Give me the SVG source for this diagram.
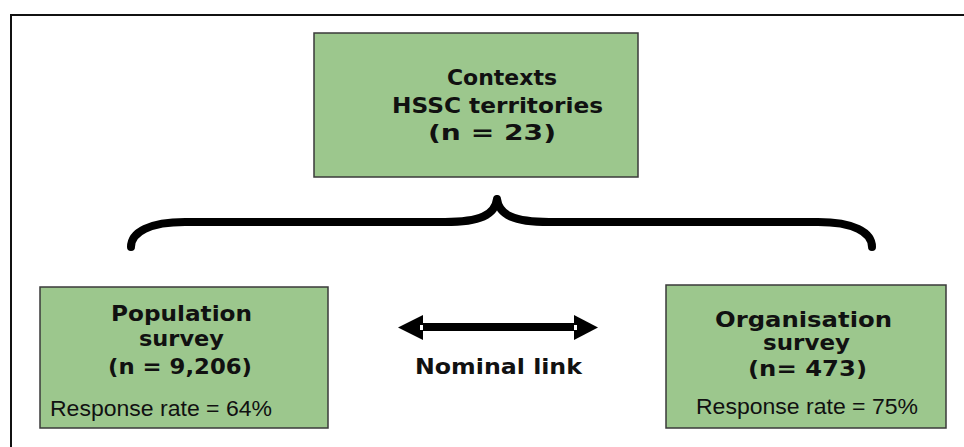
<svg xmlns="http://www.w3.org/2000/svg" width="964" height="447" viewBox="0 0 964 447">
  <defs>
    <style>
      .box { fill: #9cc78d; stroke: #3a3a3a; stroke-width: 1.5; }
      .hd { font-family: "DejaVu Sans", Verdana, sans-serif; font-weight: bold; font-size: 21px; fill: #111; }
      .rr { font-family: "Liberation Sans", Arial, sans-serif; font-size: 22px; fill: #111; }
    </style>
  </defs>
  <rect width="964" height="447" fill="#ffffff"/>
  <!-- outer frame, running past the right and bottom edges -->
  <rect x="11" y="15" width="1000" height="500" fill="none" stroke="#111" stroke-width="2"/>

  <g id="contexts">
    <rect class="box" x="314" y="33" width="324" height="144"/>
    <text class="hd" x="447" y="85" textLength="110" lengthAdjust="spacingAndGlyphs">Contexts</text>
    <text class="hd" x="392" y="113" textLength="211" lengthAdjust="spacingAndGlyphs">HSSC territories</text>
    <text class="hd" x="428" y="140" textLength="128" lengthAdjust="spacingAndGlyphs">(n = 23)</text>
  </g>

  <g id="population-survey">
    <rect class="box" x="40" y="287" width="288" height="141"/>
    <text class="hd" x="111" y="321" textLength="141" lengthAdjust="spacingAndGlyphs">Population</text>
    <text class="hd" x="139" y="346" textLength="85" lengthAdjust="spacingAndGlyphs">survey</text>
    <text class="hd" x="108" y="374" textLength="144" lengthAdjust="spacingAndGlyphs">(n = 9,206)</text>
    <text class="rr" x="50" y="416" textLength="222" lengthAdjust="spacingAndGlyphs">Response rate = 64%</text>
  </g>

  <g id="organisation-survey">
    <rect class="box" x="666" y="285" width="280" height="143"/>
    <text class="hd" x="715" y="327" textLength="177" lengthAdjust="spacingAndGlyphs">Organisation</text>
    <text class="hd" x="763" y="350" textLength="87" lengthAdjust="spacingAndGlyphs">survey</text>
    <text class="hd" x="748" y="376" textLength="119" lengthAdjust="spacingAndGlyphs">(n= 473)</text>
    <text class="rr" x="696" y="414" textLength="222" lengthAdjust="spacingAndGlyphs">Response rate = 75%</text>
  </g>

  <g id="connectors">
    <!-- curly brace grouping both surveys under the contexts -->
    <path d="M131,247 C131,232 150,222 185,222 L445,222 C480,222 495,215 497,199 C499,215 514,222 549,222 L818,222 C853,222 872,232 872,247"
          fill="none" stroke="#000" stroke-width="8" stroke-linecap="round" stroke-linejoin="round"/>
    <!-- double-headed nominal link -->
    <g id="nominal-link">
      <rect x="420" y="323" width="158" height="8" fill="#000"/>
      <polygon points="398,327.5 423,315 423,340" fill="#000"/>
      <polygon points="598,327.5 574,315 574,340" fill="#000"/>
      <rect x="420" y="325" width="3" height="5" fill="#fff"/>
      <rect x="574" y="325" width="3" height="5" fill="#fff"/>
      <text class="hd" x="415" y="374" textLength="167" lengthAdjust="spacingAndGlyphs">Nominal link</text>
    </g>
  </g>
</svg>
